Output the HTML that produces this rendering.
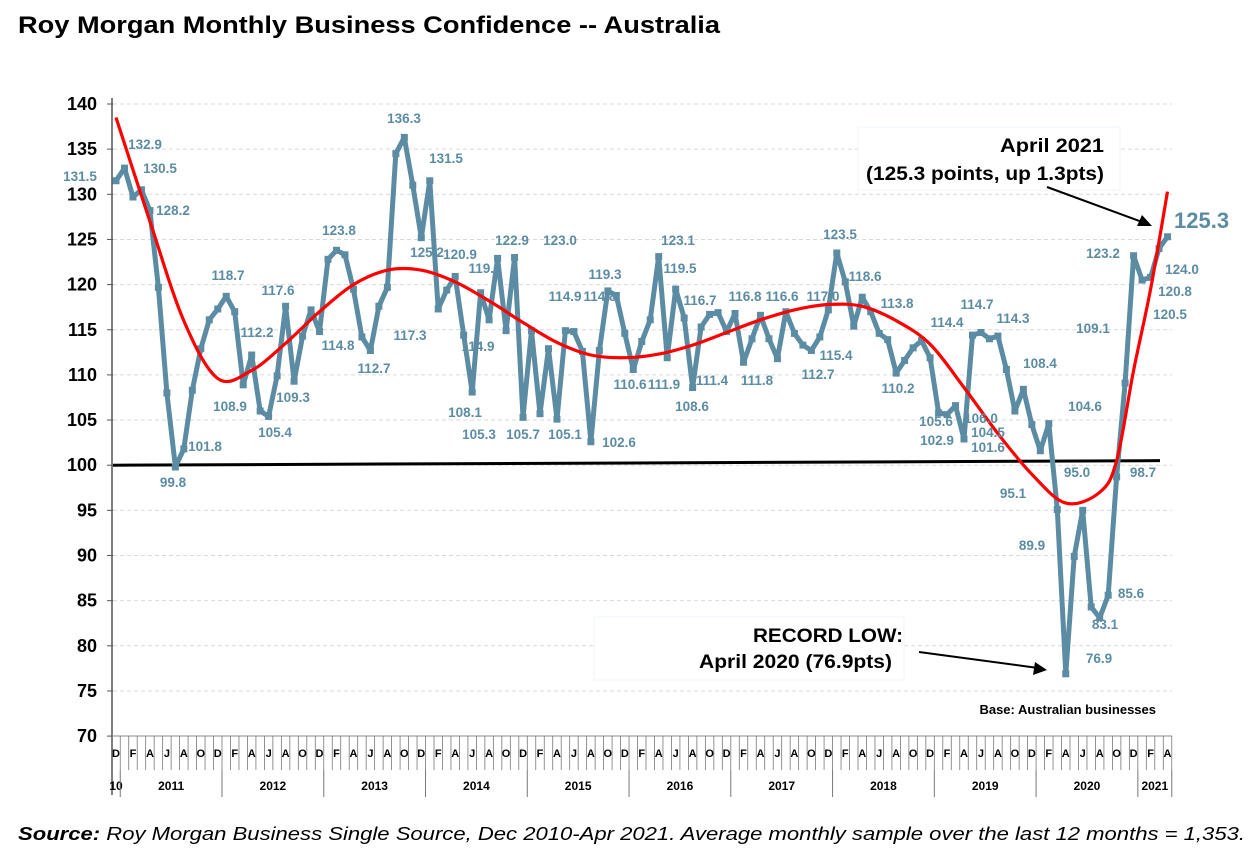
<!DOCTYPE html>
<html><head><meta charset="utf-8">
<style>
html,body{margin:0;padding:0;background:#fff;}
body{width:1254px;height:867px;position:relative;overflow:hidden;font-family:"Liberation Sans",Arial,sans-serif;}
svg{position:absolute;left:0;top:0;}
</style></head>
<body>
<svg id="chart" width="1254" height="867" viewBox="0 0 1254 867" xmlns="http://www.w3.org/2000/svg">
<text x="18" y="33" font-family="Liberation Sans, sans-serif" font-weight="bold" font-size="24" textLength="702" lengthAdjust="spacingAndGlyphs" fill="#000">Roy Morgan Monthly Business Confidence -- Australia</text>
<g id="grid"></g>
<g id="axes"></g>
<g id="series"></g>
<g id="labels" font-family="Liberation Sans, sans-serif" font-weight="bold" font-size="13.5" fill="#5b8ca3" text-anchor="middle"></g>
<g>
<rect x="858" y="127" width="262" height="63" fill="#fff" stroke="#eef4fa"/>
<text x="1104" y="152" text-anchor="end" font-family="Liberation Sans, sans-serif" font-weight="bold" font-size="19" textLength="104" lengthAdjust="spacingAndGlyphs">April 2021</text>
<text x="1104" y="180" text-anchor="end" font-family="Liberation Sans, sans-serif" font-weight="bold" font-size="19" textLength="238" lengthAdjust="spacingAndGlyphs">(125.3 points, up 1.3pts)</text>
<line x1="1047" y1="187" x2="1145" y2="223" stroke="#000" stroke-width="2"/>
<polygon points="1152,226 1137,226 1142,215" fill="#000"/>
</g>
<g>
<rect x="594" y="617" width="310" height="63" fill="#fff" stroke="#eef4fa"/>
<text x="903" y="642" text-anchor="end" font-family="Liberation Sans, sans-serif" font-weight="bold" font-size="19" textLength="150" lengthAdjust="spacingAndGlyphs">RECORD LOW:</text>
<text x="892" y="668" text-anchor="end" font-family="Liberation Sans, sans-serif" font-weight="bold" font-size="19" textLength="193" lengthAdjust="spacingAndGlyphs">April 2020 (76.9pts)</text>
<line x1="919" y1="652" x2="1038" y2="668" stroke="#000" stroke-width="2"/>
<polygon points="1047,670 1033,675 1035,662" fill="#000"/>
</g>
<text x="1156" y="714" text-anchor="end" font-family="Liberation Sans, sans-serif" font-weight="bold" font-size="13">Base: Australian businesses</text>
<text x="1174" y="228" font-family="Liberation Sans, sans-serif" font-weight="bold" font-size="22" fill="#5b8ca3">125.3</text>
<text x="18" y="840" font-family="Liberation Sans, sans-serif" font-style="italic" font-size="18" textLength="1227" lengthAdjust="spacingAndGlyphs"><tspan font-weight="bold">Source:</tspan> Roy Morgan Business Single Source, Dec 2010-Apr 2021. Average monthly sample over the last 12 months = 1,353.</text>
</svg>
<script>
// Monthly values Dec 2010 .. Apr 2021
const confidence = [131.5,132.9,129.7,130.5,128.2,119.7,108.0,99.8,101.8,108.3,112.9,116.1,117.3,118.7,117.0,108.9,112.2,106.0,105.4,109.9,117.6,109.3,114.3,117.2,114.8,122.8,123.8,123.3,119.5,114.2,112.7,117.6,119.7,134.5,136.3,131.0,125.2,131.5,117.3,119.4,120.9,114.4,108.1,119.1,116.1,122.9,114.9,123.0,105.3,114.9,105.7,112.9,105.1,114.9,114.8,112.6,102.6,112.7,119.3,118.8,114.6,110.6,113.7,116.1,123.1,111.9,119.5,116.3,108.6,115.3,116.7,116.9,114.8,116.8,111.4,114.0,116.6,114.0,111.8,117.0,114.6,113.3,112.7,114.2,117.2,123.5,120.3,115.4,118.6,117.0,114.6,113.9,110.2,111.6,113.0,113.8,111.9,105.8,105.6,106.6,102.9,114.4,114.7,114.0,114.3,110.6,106.0,108.4,104.5,101.6,104.6,95.1,76.9,89.9,95.0,84.3,83.1,85.6,98.7,109.1,123.2,120.5,120.8,124.0,125.3];
// Trend line at month indices
const trendMonths = [0,4,8,12,16,20,24,28,32,36,40,44,48,52,56,60,64,68,72,76,80,84,88,92,96,100,104,108,112,116,118,120,122,124];
const trendValues = [138.5,127,116,109.6,110.5,113.5,117,120,121.6,121.6,120.3,118.2,115.8,113.6,112.2,111.9,112.3,113.3,114.7,116.1,117.2,117.8,117.6,116,113.4,108.6,103.5,99,95.8,97,100.5,110.5,119.5,130.3];
const yTicks = [70,75,80,85,90,95,100,105,110,115,120,125,130,135,140];
const monthLetters = ["D","F","A","J","A","O"];
const yearLabels = ["10","2011","2012","2013","2014","2015","2016","2017","2018","2019","2020","2021"];
const NS="http://www.w3.org/2000/svg";
function X(i){return 116+8.48*i;}
function Y(v){return 104+(140-v)*9.03;}
function mk(tag,attrs,parent){const e=document.createElementNS(NS,tag);for(const k in attrs)e.setAttribute(k,attrs[k]);parent.appendChild(e);return e;}
const grid=document.getElementById('grid'),axes=document.getElementById('axes'),series=document.getElementById('series'),labels=document.getElementById('labels');
yTicks.forEach(v=>{
  if(v>70){const g=mk('line',{x1:113,x2:1172,y1:Y(v),y2:Y(v),stroke:'#d9d9d9','stroke-dasharray':'4,3','stroke-width':1},grid);
  
  }
  mk('line',{x1:107,x2:113,y1:Y(v),y2:Y(v),stroke:'#555'},axes);
  const t=mk('text',{x:97,y:Y(v)+6,'text-anchor':'end','font-family':'Liberation Sans, sans-serif','font-weight':'bold','font-size':18,fill:'#000'},axes);
  t.textContent=v;
  
  
});
mk('line',{x1:112,x2:112,y1:98,y2:795,stroke:'#555','stroke-width':1.5},axes);
mk('line',{x1:112,x2:1172,y1:736,y2:736,stroke:'#888','stroke-width':1},axes);
for(let i=0;i<confidence.length;i++){
  mk('line',{x1:X(i)+4.24,x2:X(i)+4.24,y1:736,y2:770,stroke:'#777','stroke-width':0.8},axes);
  if(i%2===0){const t=mk('text',{x:X(i),y:757,'text-anchor':'middle','font-family':'Liberation Sans, sans-serif','font-weight':'bold','font-size':11},axes);
  t.textContent=monthLetters[(i/2)%6];
  
  }
}
yearLabels.forEach((yl,k)=>{
  let cx;
  if(k===0){cx=X(0);}else{const s=X(12*(k-1)+0.5),e=Math.min(X(12*k+0.5),X(124)+4.24);cx=(s+e)/2;}
  const t=mk('text',{x:cx,y:790,'text-anchor':'middle','font-family':'Liberation Sans, sans-serif','font-weight':'bold','font-size':12},axes);
  t.textContent=yl;
  
  
  if(k>0) mk('line',{x1:X(12*(k-1)+0.5),x2:X(12*(k-1)+0.5),y1:770,y2:797,stroke:'#777','stroke-width':1},axes);
});
mk('line',{x1:X(124)+4.24,x2:X(124)+4.24,y1:770,y2:797,stroke:'#777'},axes);
const ref=mk('line',{x1:113,y1:Y(100),x2:1160,y2:Y(100.5),stroke:'#000','stroke-width':3},series);


const pts=confidence.map((v,i)=>X(i).toFixed(1)+','+Y(v).toFixed(1)).join(' ');
const pl=mk('polyline',{points:pts,fill:'none',stroke:'#5b8ca3','stroke-width':5,'stroke-linejoin':'round'},series);


confidence.forEach((v,i)=>{
  const r=mk('rect',{x:X(i)-3.5,y:Y(v)-3.5,width:7,height:7,fill:'#5b8ca3'},series);
  
  
});
const tp=trendMonths.map((m,k)=>[X(m),Y(trendValues[k])]);
let d='M'+tp[0][0]+','+tp[0][1];
for(let k=0;k<tp.length-1;k++){
  const p0=tp[Math.max(0,k-1)],p1=tp[k],p2=tp[k+1],p3=tp[Math.min(tp.length-1,k+2)];
  const c1=[p1[0]+(p2[0]-p0[0])/6,p1[1]+(p2[1]-p0[1])/6],c2=[p2[0]-(p3[0]-p1[0])/6,p2[1]-(p3[1]-p1[1])/6];
  d+=' C'+c1[0].toFixed(1)+','+c1[1].toFixed(1)+' '+c2[0].toFixed(1)+','+c2[1].toFixed(1)+' '+p2[0].toFixed(1)+','+p2[1].toFixed(1);
}
const tr=mk('path',{d:d,fill:'none',stroke:'#ff0000','stroke-width':3.2},series);


const valueLabels=[["131.5",80,181],["132.9",145,149],["130.5",160,173],["128.2",173,215],["118.7",228,280],["99.8",173,487],["101.8",205,451],["108.9",230,411],["112.2",257,337],["117.6",278,295],["105.4",275,437],["109.3",293,402],["123.8",339,235],["114.8",338,350],["112.7",374,373],["136.3",404,123],["125.2",427,257],["117.3",410,340],["131.5",446,163],["120.9",460,259],["119.1",485,273],["122.9",512,245],["123.0",560,245],["108.1",465,417],["105.3",479,439],["114.9",478,351],["114.9",565,301],["114.8",600,301],["105.7",523,439],["105.1",565,439],["119.3",605,279],["102.6",619,447],["110.6",630,389],["111.9",664,389],["123.1",678,245],["119.5",680,273],["116.7",700,305],["108.6",692,411],["116.8",745,301],["111.4",712,385],["111.8",757,385],["116.6",782,301],["117.0",823,301],["112.7",818,379],["123.5",840,239],["118.6",865,281],["115.4",836,360],["113.8",897,308],["110.2",898,393],["114.4",947,327],["114.7",977,309],["114.3",1013,323],["105.6",936,426],["102.9",937,445],["106.0",981,423],["104.5",988,437],["101.6",988,452],["108.4",1040,368],["104.6",1085,411],["109.1",1093,333],["95.1",1013,498],["95.0",1077,477],["89.9",1032,550],["85.6",1131,598],["83.1",1105,629],["76.9",1099,663],["98.7",1143,477],["123.2",1103,258],["124.0",1182,274],["120.8",1175,296],["120.5",1170,319]];
valueLabels.forEach(l=>{
  const t=mk('text',{x:l[1],y:l[2]},labels);
  t.textContent=l[0];
  
  
});
</script>
</body></html>
